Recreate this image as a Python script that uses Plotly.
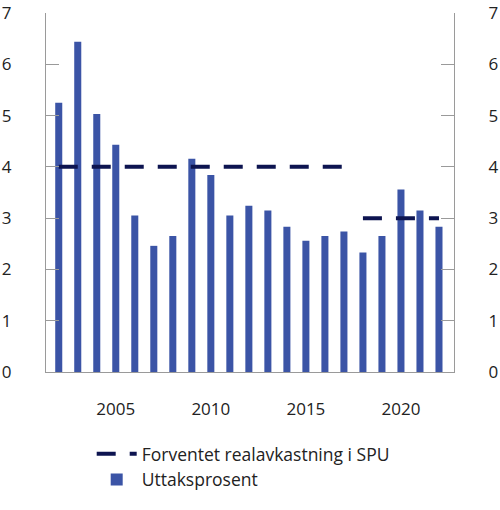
import plotly.graph_objects as go

# Uttaksprosent per year
years = list(range(2002, 2023))
uttak = [5.25, 6.44, 5.03, 4.43, 3.05, 2.46, 2.65, 4.16, 3.84, 3.05, 3.24,
         3.15, 2.83, 2.56, 2.65, 2.74, 2.33, 2.65, 3.56, 3.15, 2.83]

# Forventet realavkastning (two periods)
real_years_1 = [2002, 2017]
real_vals_1 = [4, 4]
real_years_2 = [2018, 2022]
real_vals_2 = [3, 3]

x_ticks = [2005, 2010, 2015, 2020]
y_ticks = [0, 1, 2, 3, 4, 5, 6, 7]

bar_color = '#3b54a6'
line_color = '#0d1450'
axis_color = '#9a9a9a'

fig = go.Figure()

fig.add_trace(go.Bar(
    x=years,
    y=uttak,
    width=0.37,
    marker=dict(color=bar_color, line=dict(width=0)),
    name='Uttaksprosent',
    legendrank=2
))

fig.add_trace(go.Scatter(
    x=real_years_1,
    y=real_vals_1,
    mode='lines',
    line=dict(color=line_color, width=4, dash='19px,14px'),
    name='Forventet realavkastning i SPU',
    legendrank=1
))

# second period drawn on the right axis so that axis is rendered (same scale)
fig.add_trace(go.Scatter(
    x=real_years_2,
    y=real_vals_2,
    mode='lines',
    line=dict(color=line_color, width=4, dash='19px,14px'),
    showlegend=False,
    yaxis='y2'
))

axis_style = dict(
    range=[0, 7],
    tickvals=y_ticks,
    ticks='inside',
    ticklen=13,
    tickcolor=axis_color,
    showgrid=False,
    showline=True,
    linecolor=axis_color,
    linewidth=1,
    zeroline=False,
    ticklabelstandoff=30,
    automargin=False
)

fig.update_layout(
    width=500,
    height=510,
    margin=dict(l=46, r=46, t=13, b=138),
    plot_bgcolor='white',
    paper_bgcolor='white',
    font=dict(family='Open Sans', size=17, color='#222222'),
    hovermode=False,
    showlegend=True,
    legend=dict(
        orientation='v',
        x=0.112, xanchor='left',
        y=-0.178, yanchor='top',
        font=dict(size=17.5),
        traceorder='normal',
        tracegroupgap=0,
        itemwidth=40
    ),
    xaxis=dict(
        range=[2001.33, 2022.79],
        tickvals=x_ticks,
        ticks='',
        showgrid=False,
        showline=True,
        linecolor=axis_color,
        linewidth=1,
        zeroline=False,
        ticklabelstandoff=22,
        automargin=False
    ),
    yaxis=axis_style,
    yaxis2=dict(axis_style, overlaying='y', side='right')
)

# drop the default page margin so the figure fills the window
fig.write_html("out.html", config={'displayModeBar': False},
               post_script="document.body.style.margin='0';")
